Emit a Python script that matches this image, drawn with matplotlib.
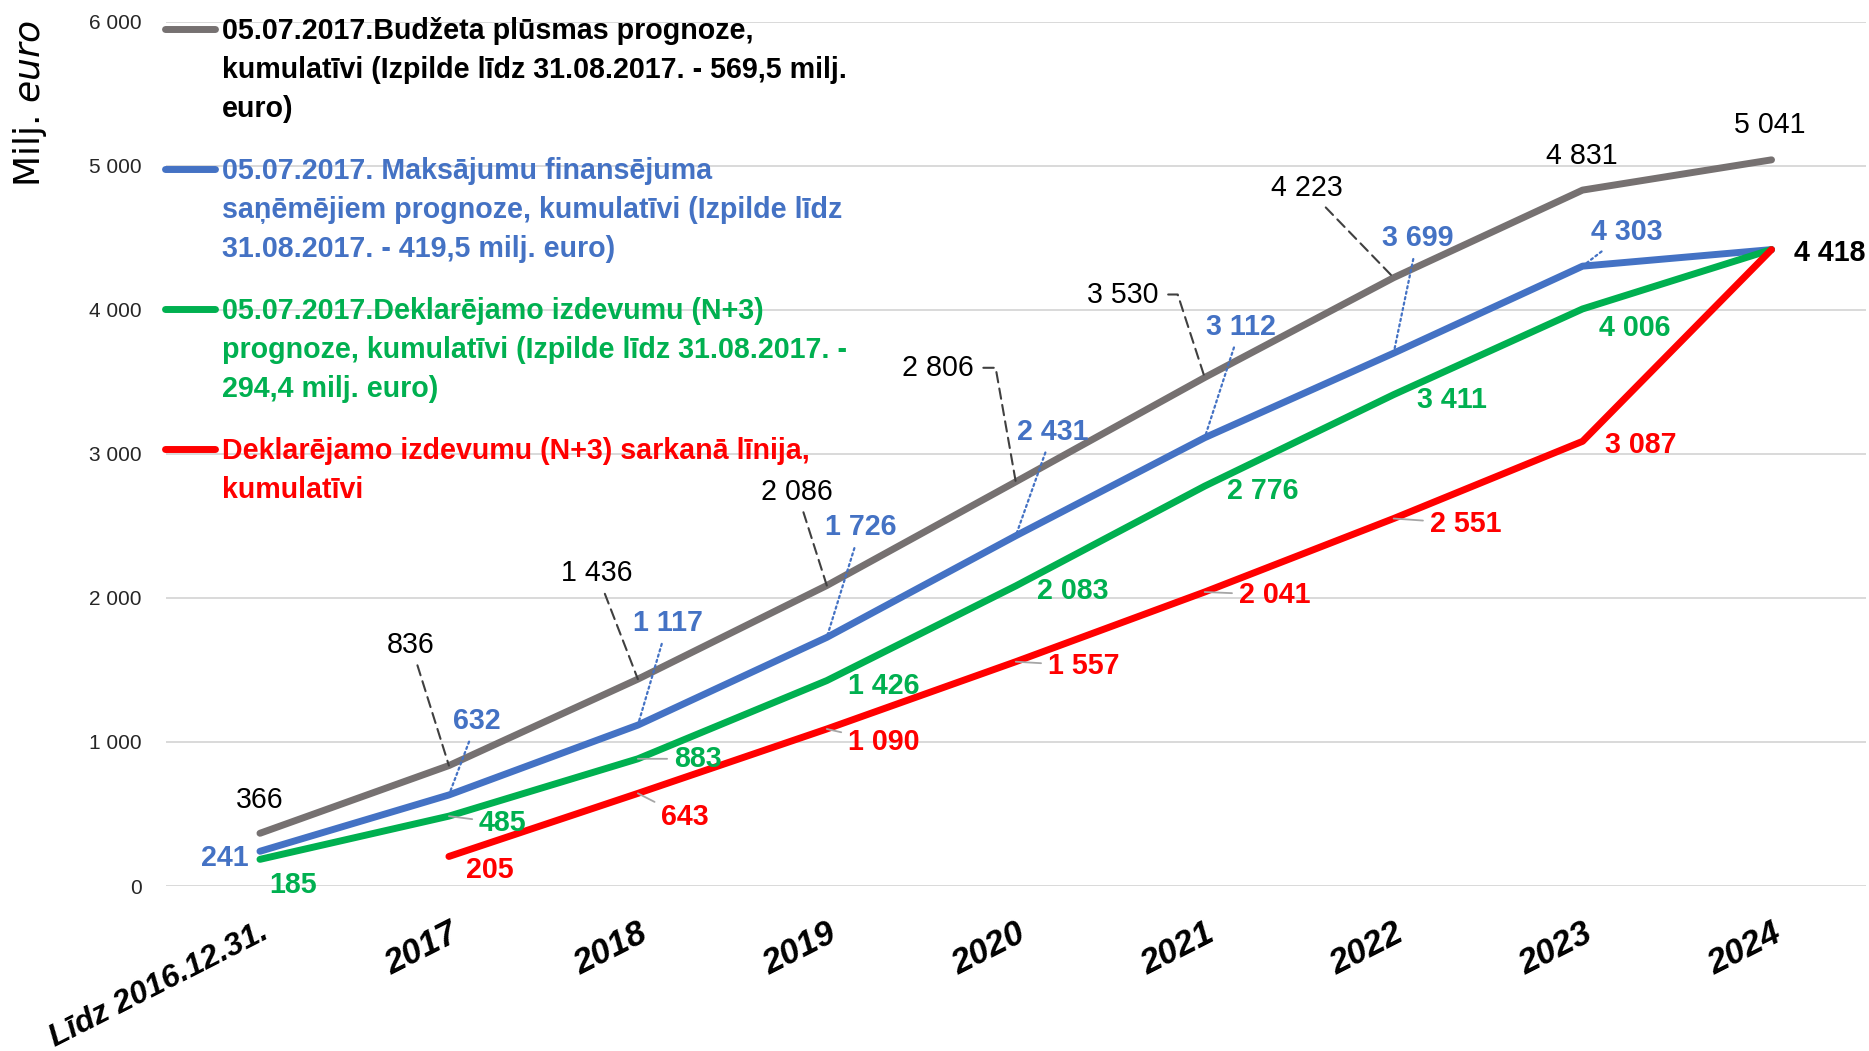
import matplotlib
matplotlib.use("Agg")
import matplotlib.pyplot as plt
from matplotlib.ticker import FuncFormatter, FixedLocator

plt.rcParams['font.family'] = ['Liberation Sans', 'DejaVu Sans']

# ---------------- data ----------------
categories = ['Līdz 2016.12.31.', '2017', '2018', '2019', '2020', '2021', '2022', '2023', '2024']
budget = [366, 836, 1436, 2086, 2806, 3530, 4223, 4831, 5041]
payments = [241, 632, 1117, 1726, 2431, 3112, 3699, 4303, 4418]
declared = [185, 485, 883, 1426, 2083, 2776, 3411, 4006, 4418]
red_line = [None, 205, 643, 1090, 1557, 2041, 2551, 3087, 4418]
y_ticks = [0, 1000, 2000, 3000, 4000, 5000, 6000]

legend_labels = [
    ["05.07.2017.Budžeta plūsmas prognoze,",
     "kumulatīvi (Izpilde līdz 31.08.2017. - 569,5 milj.",
     "euro)"],
    ["05.07.2017. Maksājumu finansējuma",
     "saņēmējiem prognoze, kumulatīvi (Izpilde līdz",
     "31.08.2017. - 419,5 milj. euro)"],
    ["05.07.2017.Deklarējamo izdevumu (N+3)",
     "prognoze, kumulatīvi (Izpilde līdz 31.08.2017. -",
     "294,4 milj. euro)"],
    ["Deklarējamo izdevumu (N+3) sarkanā līnija,",
     "kumulatīvi"],
]

# ---------------- styles ----------------
GRAY, BLUE, GREEN, RED = '#767171', '#4472C4', '#00B050', '#FF0000'
W, H, DPI = 1869, 1051, 100
FS = 20.6

fig = plt.figure(figsize=(W / DPI, H / DPI), dpi=DPI)
left_px, right_px, top_px, bottom_px = 165.5, 1866, 21.7, 886
ax = fig.add_axes([left_px / W, 1 - bottom_px / H, (right_px - left_px) / W,
                   (bottom_px - top_px) / H])

x = list(range(len(categories)))
LW = 5
series = [
    (budget, GRAY), (payments, BLUE), (declared, GREEN), (red_line, RED)
]
for vals, col in series:
    xs = [xi for xi, v in zip(x, vals) if v is not None]
    vs = [v for v in vals if v is not None]
    ax.plot(xs, vs, color=col, lw=LW, solid_capstyle='round',
            solid_joinstyle='round', zorder=3)

ax.set_xlim(-0.5, len(categories) - 0.5)
ax.set_ylim(0, 6000)
ax.yaxis.set_major_locator(FixedLocator(y_ticks))
ax.yaxis.set_major_formatter(FuncFormatter(lambda v, p: f"{int(v):,}".replace(",", " ")))
ax.grid(axis='y', color='#D9D9D9', lw=1.4, zorder=0)
ax.set_axisbelow(True)
for s in ax.spines.values():
    s.set_visible(False)
ax.tick_params(axis='y', length=0, pad=17, labelsize=15, labelcolor='#262626')
ax.tick_params(axis='x', length=0, pad=22)
ax.set_xticks(x)
ax.set_xticklabels(categories, rotation=27, ha='right', va='top',
                   rotation_mode='anchor', fontsize=25, fontweight='bold',
                   fontstyle='italic', color='black')
ax.get_xticklabels()[0].set_fontsize(23)

# ---------------- data labels ----------------
def fmt(v):
    return f"{v:,}".replace(",", " ")

# offsets in pixels (dx, dy up)
gray_off = [(0, 36), (-38, 124), (-41, 109), (-30, 97), (-78, 117), (-82, 86),
            (-87, 93), (-1, 37), (-2, 38)]
gray_lead = [None, 'line', 'line', 'line', ('angle', 100), ('angle', 108), 'line', None, None]
blue_off = [(-35, -4), (28, 77), (30, 105), (34, 113), (37, 107), (36, 114),
            (24, 118), (44, 37), None]
green_off = [(33, -23), (54, -4), (60, 3), (57, -2), (57, -2), (58, -2),
             (58, -2), (52, -16), None]
green_lead = [None, 'line', 'line', None, None, None, None, None, None]
red_off = [None, (41, -11), (47, -21), (57, -10), (68, -1), (70, 0), (72, -2),
           (58, -1), (58, 0)]
red_lead = [None, None, 'line', 'line', 'line', 'line', 'line', None, None]


def add_labels(vals, offs, color, weight, leads, lead_style):
    for i, (v, off) in enumerate(zip(vals, offs)):
        if v is None or off is None:
            continue
        ap = None
        lead = leads[i] if leads else None
        if lead is not None:
            ap = dict(arrowstyle='-', shrinkA=3, shrinkB=0, **lead_style)
            if isinstance(lead, tuple):
                ap['connectionstyle'] = f"angle,angleA=0,angleB={lead[1]},rad=0"
                ap['relpos'] = (1.0, 0.5)
                ap['shrinkA'] = 5
        tcol = color
        tw = weight
        if color == RED and i == len(vals) - 1:
            tcol, tw = 'black', 'bold'
        ax.annotate(fmt(v), xy=(i, v), xytext=off, textcoords='offset pixels',
                    ha='center', va='center_baseline', fontsize=FS,
                    fontweight=tw, color=tcol, arrowprops=ap, zorder=5,
                    annotation_clip=False)


add_labels(budget, gray_off, 'black', 'normal', gray_lead,
           dict(color='#404040', lw=1.5, linestyle=(0, (5, 3))))
add_labels(payments, blue_off, BLUE, 'bold', [None] + ['line'] * 7 + [None],
           dict(color=BLUE, lw=1.6, linestyle=(0, (1, 1.5))))
add_labels(declared, green_off, GREEN, 'bold', green_lead,
           dict(color='#A6A6A6', lw=1.3))
add_labels(red_line, red_off, RED, 'bold', red_lead,
           dict(color='#A6A6A6', lw=1.3))

# ---------------- legend (manual) ----------------
leg_colors = [GRAY, BLUE, GREEN, RED]
leg_text_colors = ['black', BLUE, GREEN, RED]
leg_y0 = [29, 169, 309, 449]
line_step = 39
for lines, lc, tc, y0 in zip(legend_labels, leg_colors, leg_text_colors, leg_y0):
    fig.add_artist(plt.Line2D([165 / W, 215 / W], [1 - y0 / H, 1 - y0 / H],
                              color=lc, lw=LW, solid_capstyle='round'))
    for k, t in enumerate(lines):
        yb = y0 + k * line_step + 10
        fig.text(222 / W, 1 - yb / H, t, ha='left', va='baseline',
                 fontsize=FS, fontweight='bold', color=tc)

# y axis label
fig.text(30 / W, 1 - 104 / H, r"Milj. $\mathit{euro}$", rotation=90,
         ha='center', va='center', fontsize=26, family='DejaVu Sans')

fig.savefig('out.png', dpi=DPI)
